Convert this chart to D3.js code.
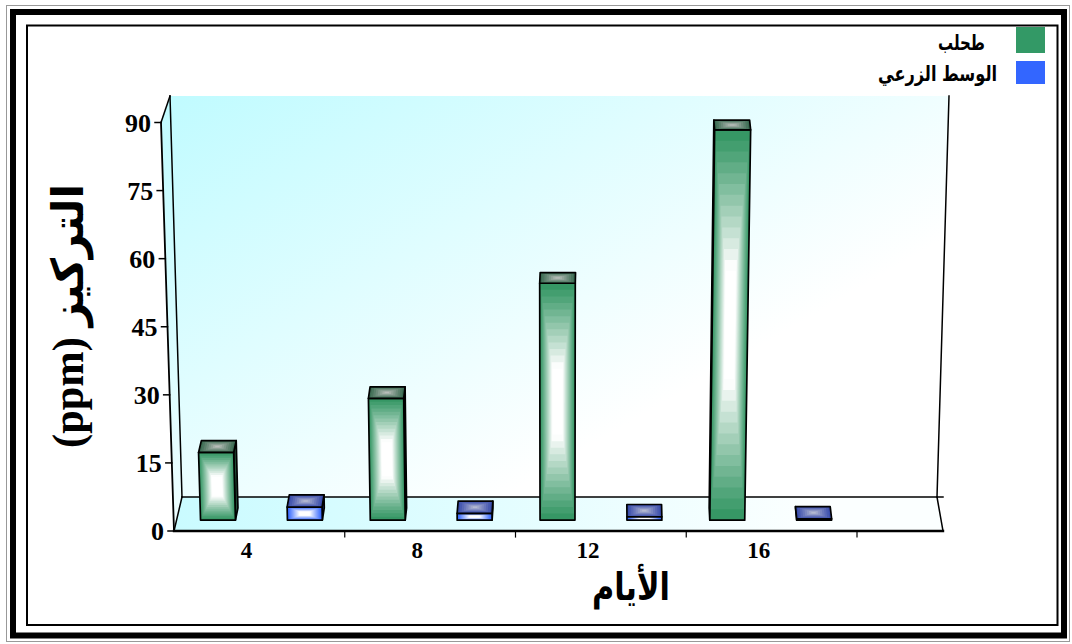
<!DOCTYPE html>
<html><head><meta charset="utf-8">
<script src="https://cdn.jsdelivr.net/npm/d3@7"></script>
<style>body{margin:0;background:#fff}svg{display:block}</style>
</head><body><svg id="c" width="1072" height="644"></svg>
<script>
// ---- data ----
const days = ["4", "8", "12", "16"];
const seriesNames = ["طحلب", "الوسط الزرعي"];
const algae = [15, 27, 52.5, 86.5];
const medium = [2.9, 1.5, 0.75, 0.3];
const yTicks = [0, 15, 30, 45, 60, 75, 90];
const xTitle = "الأيام";
const yTitle = "التركيز (ppm)";
const seriesColors = ["#339966", "#3366ff"];

const svg = d3.select("#c");
svg.append("rect").attr("width", 1072).attr("height", 644).attr("fill", "#fff");

// ---- frame ----
svg.append("rect").attr("x", 6.5).attr("y", 5.5).attr("width", 1063).attr("height", 636)
  .attr("fill", "none").attr("stroke", "#999").attr("stroke-width", 1);
svg.append("rect").attr("x", 13).attr("y", 12).attr("width", 1051).attr("height", 623.5)
  .attr("fill", "none").attr("stroke", "#000").attr("stroke-width", 6);
svg.append("rect").attr("x", 27).attr("y", 25.5).attr("width", 1030.5).attr("height", 599.5)
  .attr("fill", "none").attr("stroke", "#000").attr("stroke-width", 2);

// ---- defs ----
const defs = svg.append("defs");
const wallG = defs.append("linearGradient").attr("id", "wall").attr("gradientUnits", "userSpaceOnUse")
  .attr("x1", 170).attr("y1", 96).attr("x2", 430).attr("y2", 540);
wallG.append("stop").attr("offset", 0).attr("stop-color", "#c0fbff");
wallG.append("stop").attr("offset", 1).attr("stop-color", "#ffffff");
const floorG = defs.append("linearGradient").attr("id", "floor").attr("gradientUnits", "userSpaceOnUse")
  .attr("x1", 180).attr("y1", 497).attr("x2", 800).attr("y2", 560);
floorG.append("stop").attr("offset", 0).attr("stop-color", "#cafbff");
floorG.append("stop").attr("offset", 1).attr("stop-color", "#fbffff");

// ---- 3D projection built from scales ----
const yMax = 90;
const yFront = d3.scaleLinear().domain([0, yMax]).range([531, 122.5]);
const yBack = d3.scaleLinear().domain([0, yMax]).range([497, 96]);
const leftFront = d3.scaleLinear().domain([0, yMax]).range([174, 161]);
const leftBack = d3.scaleLinear().domain([0, yMax]).range([182, 170]);
const rightFront = d3.scaleLinear().domain([0, yMax]).range([943, 956]);
const rightBack = d3.scaleLinear().domain([0, yMax]).range([937, 949]);
const U = 769; // floor width (units)
const x0 = d3.scaleBand().domain(days).range([0, 683]).padding(0);
const x1 = d3.scaleBand().domain([0, 1]).range([0, x0.bandwidth()]).paddingInner(0.598).paddingOuter(0.276);

function P(u, v, z) {
  const xl = leftFront(v) + (leftBack(v) - leftFront(v)) * z;
  const xr = rightFront(v) + (rightBack(v) - rightFront(v)) * z;
  const x = xl + (u / U) * (xr - xl);
  const y = yFront(v) + (yBack(v) - yFront(v)) * z;
  return [x, y];
}
const poly = pts => "M" + pts.map(p => p[0].toFixed(2) + "," + p[1].toFixed(2)).join("L") + "Z";

// ---- walls & floor ----
const g = svg.append("g");
g.append("path").attr("d", poly([P(0, 0, 1), P(U, 0, 1), P(U, yMax, 1), P(0, yMax, 1)])).attr("fill", "url(#wall)");
g.append("path").attr("d", poly([P(0, 0, 0), P(0, 0, 1), P(0, yMax, 1), P(0, yMax, 0)])).attr("fill", "url(#wall)");
g.append("path").attr("d", poly([P(0, 0, 0), P(U, 0, 0), P(U, 0, 1), P(0, 0, 1)])).attr("fill", "url(#floor)");

const line = (a, b, w) => g.append("line").attr("x1", a[0]).attr("y1", a[1]).attr("x2", b[0]).attr("y2", b[1])
  .attr("stroke", "#000").attr("stroke-width", w || 1.5).attr("stroke-linecap", "square");
line(P(0, 0, 1), P(0, yMax, 1));
line(P(0, yMax, 0), P(0, yMax, 1));
line(P(0, 0, 0), P(0, 0, 1));
line(P(U, 0, 1), P(U, yMax, 1));
line(P(0, 0, 1), [P(U, 0, 0)[0], P(U, 0, 1)[1]]);
line(P(U, 0, 1), P(U, 0, 0));

// ---- bars ----
const z0 = 0.32, z1 = 0.68;
const styles = [
  { front: ["#369765", "#ffffff"], top: ["#3b6b52", "#bcc0bc"], side: "#224a36" },
  { front: ["#3366ff", "#ffffff"], top: ["#3a4dac", "#b8bcd2"], side: "#26338a" }
];
function ringFace(sel, pts, edge, center, n, k) {
  const c = [d3.mean(pts, p => p[0]), d3.mean(pts, p => p[1])];
  const ip = d3.interpolateRgb(edge, center);
  for (let i = 0; i < n; i++) {
    const s = i / n;
    const q = pts.map(p => [p[0] + (c[0] - p[0]) * s, p[1] + (c[1] - p[1]) * s]);
    sel.append("path").attr("d", poly(q)).attr("fill", ip(Math.min(1, Math.pow(s / k, 1.1))));
  }
  sel.append("path").attr("d", poly(pts)).attr("fill", "none").attr("stroke", "#000").attr("stroke-width", 1.7).attr("stroke-linejoin", "round");
}
const seriesData = [algae, medium];
seriesData.forEach((vals, si) => {
  vals.forEach((v, di) => {
    const bg = g.append("g");
    const u0 = x0(days[di]) + x1(si), u1 = u0 + x1.bandwidth();
    const st = styles[si];
    const front = [P(u0, 0, z0), P(u1, 0, z0), P(u1, v, z0), P(u0, v, z0)];
    const top = [P(u0, v, z0), P(u1, v, z0), P(u1, v, z1), P(u0, v, z1)];
    const left = [P(u0, 0, z0), P(u0, 0, z1), P(u0, v, z1), P(u0, v, z0)];
    const right = [P(u1, 0, z0), P(u1, 0, z1), P(u1, v, z1), P(u1, v, z0)];
    if (P(u0, v, z1)[0] < P(u0, v, z0)[0] - 0.3)
      bg.append("path").attr("d", poly(left)).attr("fill", st.side).attr("stroke", "#000").attr("stroke-width", 1.7).attr("stroke-linejoin", "round");
    if (P(u1, v, z1)[0] > P(u1, v, z0)[0] + 0.3)
      bg.append("path").attr("d", poly(right)).attr("fill", st.side).attr("stroke", "#000").attr("stroke-width", 1.7).attr("stroke-linejoin", "round");
    ringFace(bg, front, st.front[0], st.front[1], 18, 0.68);
    ringFace(bg, top, st.top[0], st.top[1], 8, 0.9);
  });
});

// ---- front axes ----
line(P(0, 0, 0), P(0, yMax, 0), 1.8);
line(P(0, 0, 0), P(U, 0, 0), 2.4);
yTicks.forEach(t => {
  const p = P(0, t, 0);
  line([p[0] - 6, p[1]], p, 1.5);
  svg.append("text").attr("x", p[0] - 10).attr("y", p[1]).attr("dy", "0.35em")
    .attr("text-anchor", "end").attr("font-family", "Liberation Serif, serif").attr("font-weight", "bold")
    .attr("font-size", 26).text(t);
});
days.forEach(d => {
  const pb = P(x0(d) + x0.bandwidth(), 0, 0);
  line(pb, [pb[0], pb[1] + 6], 1.2);
  const pc = P(x0(d) + x0.bandwidth() / 2, 0, 0);
  svg.append("text").attr("x", pc[0] - 13).attr("y", 558).attr("text-anchor", "middle")
    .attr("font-family", "Liberation Serif, serif").attr("font-weight", "bold").attr("font-size", 23).text(d);
});

// ---- titles ----
function fitText(sel, target) {
  const len = sel.node().getComputedTextLength();
  return target / len;
}
const xt = svg.append("text").attr("text-anchor", "middle").attr("font-family", "DejaVu Sans, sans-serif")
  .attr("font-weight", "bold").attr("font-size", 33).text(xTitle);
const sx = fitText(xt, 78);
xt.attr("transform", `translate(631,600) scale(${sx},1.15)`);

const yt = svg.append("text").attr("text-anchor", "middle").attr("direction", "rtl")
  .attr("font-family", "Liberation Serif, DejaVu Sans, serif").attr("font-weight", "bold").attr("font-size", 44).text(yTitle);
const sy = fitText(yt, 264);
yt.attr("transform", `translate(83,316) rotate(-90) scale(${sy},1)`);

// ---- legend ----
const legY = [[27, 26], [61, 23]];
const legText = [[985, 50, 47], [997, 81, 119]];
seriesNames.forEach((name, i) => {
  svg.append("rect").attr("x", 1016).attr("y", legY[i][0]).attr("width", 29).attr("height", legY[i][1]).attr("fill", seriesColors[i]);
  const t = svg.append("text").attr("text-anchor", "end").attr("font-family", "DejaVu Sans, sans-serif")
    .attr("font-weight", "bold").attr("font-size", 20).text(name);
  const s = fitText(t, legText[i][2]);
  t.attr("transform", `translate(${legText[i][0]},${legText[i][1]}) scale(${s},1.05)`);
});
</script></body></html>
